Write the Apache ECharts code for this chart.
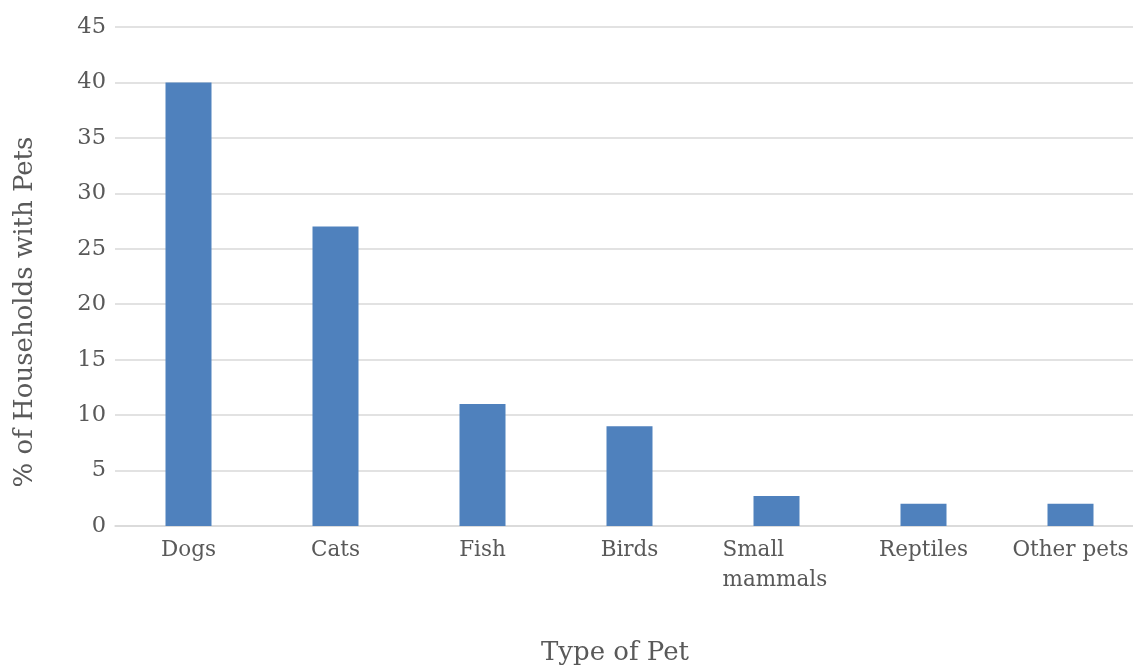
<!DOCTYPE html>
<html>
<head>
<meta charset="utf-8">
<script src="https://cdn.jsdelivr.net/npm/echarts@6/dist/echarts.min.js"></script>
<style>html,body{margin:0;padding:0;background:#fff;overflow:hidden;}#c{width:1150px;height:665px;}</style>
</head>
<body>
<div id="c"></div>
<script>
const categories = ['Dogs', 'Cats', 'Fish', 'Birds', 'Small mammals', 'Reptiles', 'Other pets'];
const values = [40, 27, 11, 9, 2.7, 2, 2];
const yTicks = { min: 0, max: 45, interval: 5 };
const xTitle = 'Type of Pet';
const yTitle = '% of Households with Pets';

const FONT = '"DejaVu Serif", serif';
const TXT = '#595959';
const chart = echarts.init(document.getElementById('c'));
chart.setOption({
  animation: false,
  backgroundColor: '#fff',
  grid: { left: 115, top: 27, width: 1029, height: 499, containLabel: false },
  title: {
    text: xTitle, left: 610, top: 635, textAlign: 'center',
    textStyle: { fontFamily: FONT, fontSize: 26, fontWeight: 'normal', color: TXT }
  },
  graphic: [{
    type: 'text', x: 25, y: 312, rotation: Math.PI / 2,
    style: { text: yTitle, fontFamily: FONT, fontSize: 26, fill: TXT, align: 'center', verticalAlign: 'middle' }
  }],
  xAxis: {
    type: 'category', data: categories,
    axisLine: { lineStyle: { color: '#d9d9d9', width: 1.5 } },
    axisTick: { show: false },
    axisLabel: {
      interval: 0, margin: 9, lineHeight: 30, color: TXT, fontFamily: FONT, fontSize: 21.5,
      formatter: function (v) {
        if (v.indexOf(' ') > 0 && v.length > 11) {
          return v.split(' ').map(function (p) { return '{l|' + p + '}'; }).join('\n');
        }
        return v;
      },
      rich: { l: { width: 108, align: 'left', fontFamily: FONT, fontSize: 21.5, color: TXT, lineHeight: 30 } }
    }
  },
  yAxis: {
    type: 'value', min: yTicks.min, max: yTicks.max, interval: yTicks.interval,
    axisLine: { show: false }, axisTick: { show: false },
    splitLine: { lineStyle: { color: '#d9d9d9', width: 1.5 } },
    axisLabel: { margin: 9, color: TXT, fontFamily: FONT, fontSize: 22.5 }
  },
  series: [{
    type: 'bar', data: values, barWidth: 46,
    itemStyle: { color: '#4f81bd' }
  }]
});
</script>
</body>
</html>
